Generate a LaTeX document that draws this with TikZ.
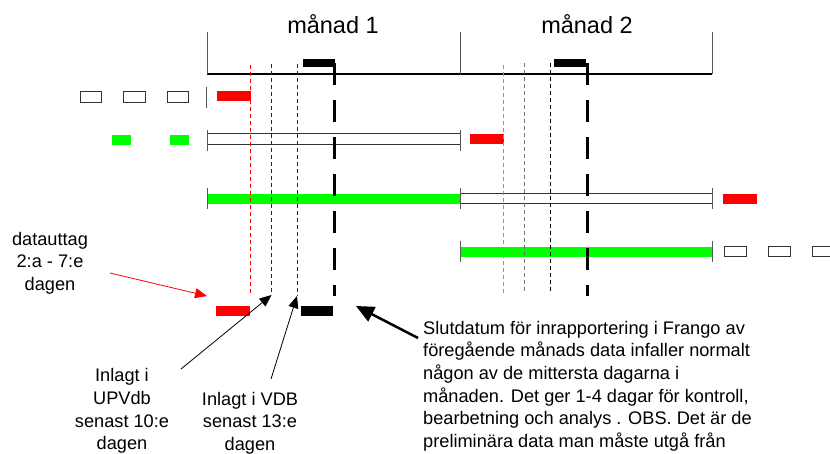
\documentclass[tikz,border=0pt]{standalone}
\usepackage{fontspec}
\setmainfont{Liberation Sans}
\usetikzlibrary{arrows.meta}
\begin{document}
\begin{tikzpicture}[x=1pt,y=-1pt,
  every node/.style={font=\fontsize{18.2}{22.6}\selectfont, inner sep=0pt},
  redbar/.style={fill=red},
  greenbar/.style={fill=green},
  openbar/.style={draw=black!80, line width=1pt, fill=white},
  blackbar/.style={fill=black},
  tick/.style={draw=black!65, line width=1pt},
  thindash/.style={line width=0.8pt, dash pattern=on 4pt off 3pt},
  thickdash/.style={line width=3pt, dash pattern=on 22pt off 15pt},
  ptr/.style={-{Triangle[length=12pt,width=10pt]}, line width=0.8pt},
  bigptr/.style={-{Triangle[length=18pt,width=16pt]}, line width=2.5pt},
]
\useasboundingbox (0,0) rectangle (830,453);

% timeline
\draw[line width=1.1pt] (207,74) -- (712,74);
\draw[tick] (207,32) -- (207,74);
\draw[tick] (460,32) -- (460,74);
\draw[tick] (712,32) -- (712,74);
\node[font=\fontsize{23.5}{28}\selectfont] (m1) at (333,24) {månad 1};
\node[font=\fontsize{23.5}{28}\selectfont] (m2) at (587,24) {månad 2};

% top black marks
\fill[blackbar] (303,59) rectangle (335,67);
\fill[blackbar] (554,59) rectangle (586,67);

% row 1
\draw[openbar] (80,91) rectangle (101,102);
\draw[openbar] (123.5,91) rectangle (145,102);
\draw[openbar] (167,91) rectangle (188.5,102);
\draw[tick] (206.5,87) -- (206.5,108);
\fill[redbar] (217,91) rectangle (250.5,100.5);

% row 2
\fill[greenbar] (112,135) rectangle (131,145);
\fill[greenbar] (170,135) rectangle (189,145);
\draw[openbar] (207,133) rectangle (460,144.5);
\draw[tick] (207,130) -- (207,151);
\draw[tick] (460,130) -- (460,151);
\fill[redbar] (470,134) rectangle (504,144);

% row 3
\fill[greenbar] (207,194) rectangle (460,203.5);
\draw[openbar] (460,193) rectangle (712,203.5);
\draw[tick] (207,188) -- (207,209);
\draw[tick] (460,188) -- (460,209);
\draw[tick] (712,188) -- (712,209);
\fill[redbar] (723,194) rectangle (757,204);

% row 4
\fill[greenbar] (460,246.5) rectangle (712,257);
\draw[tick] (460,241) -- (460,262);
\draw[tick] (712,241) -- (712,262);
\draw[openbar] (724.5,246) rectangle (746,256.5);
\draw[openbar] (768,246) rectangle (790,256.5);
\draw[openbar] (812,246) rectangle (834,256.5);

% bottom bars
\fill[redbar] (216,306) rectangle (250,316);
\fill[blackbar] (301,306) rectangle (332.5,316);

% dashed verticals month 1
\draw[thindash, red] (250,65) -- (250,295);
\draw[thindash, black!85] (271,64) -- (271,295);
\draw[thindash, black!85] (297.5,64) -- (297.5,296);
\draw[thickdash] (334.5,63) -- (334.5,296);
% dashed verticals month 2
\draw[thindash, red!60] (503,65) -- (503,296);
\draw[thindash, black!55] (524,63) -- (524,293);
\draw[thindash, black] (550.5,63) -- (550.5,293);
\draw[thickdash] (587,63) -- (587,296);

% labels
\node[align=center] (dt) at (50,263) {datauttag\\2:a - 7:e\\dagen};
\node[align=center] (up) at (122,411) {Inlagt i\\UPVdb\\senast 10:e\\dagen};
\node[align=center] (vdb) at (250,423) {Inlagt i VDB\\senast 13:e\\dagen};
\node[align=left, anchor=north west] (sl) at (423,321) {Slutdatum för inrapportering i Frango av\\föregående månads data infaller normalt\\någon av de mittersta dagarna i\\månaden. Det ger 1-4 dagar för kontroll,\\bearbetning och analys . OBS. Det är de\\preliminära data man måste utgå från};

% arrows
\coordinate (ra0) at (110,273);
\coordinate (ra1) at (207,296);
\coordinate (ua0) at (181,369);
\coordinate (ua1) at (271.5,295);
\coordinate (va0) at (271,379);
\coordinate (va1) at (297,296);
\coordinate (sa0) at (418,338);
\coordinate (sa1) at (356,306);
\draw[ptr, red] (ra0) -- (ra1);
\draw[ptr] (ua0) -- (ua1);
\draw[ptr] (va0) -- (va1);
\draw[bigptr] (sa0) -- (sa1);
\end{tikzpicture}
\end{document}
